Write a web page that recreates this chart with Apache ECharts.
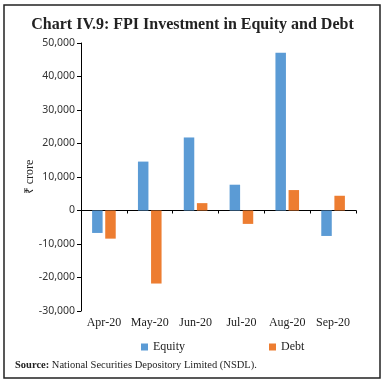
<!DOCTYPE html>
<html><head><meta charset="utf-8">
<script src="https://cdn.jsdelivr.net/npm/echarts@6/dist/echarts.min.js"></script>
<style>html,body{margin:0;padding:0;background:#fff}#c{width:385px;height:383px}</style>
</head><body><div id="c"></div>
<script>
const categories = ['Apr-20','May-20','Jun-20','Jul-20','Aug-20','Sep-20'];
const equity = [-6700, 14600, 21800, 7700, 47100, -7600];
const debt = [-8400, -21800, 2200, -4000, 6100, 4400];
const yMin = -30000, yMax = 50000, yStep = 10000;

const chart = echarts.init(document.getElementById('c'));
const fmt = v => (v < 0 ? '-' : '') + Math.abs(v).toString().replace(/\B(?=(\d{3})+(?!\d))/g, ',');
chart.setOption({
  animation: false,
  title: {
    text: 'Chart IV.9: FPI Investment in Equity and Debt',
    left: 'center', top: 12,
    textStyle: {fontFamily: 'Liberation Serif', fontWeight: 'bold', fontSize: 16, color: '#222'}
  },
  legend: {
    left: 136, top: 336, itemWidth: 7, itemHeight: 7, itemGap: 84, icon: 'rect',
    textStyle: {fontFamily: 'Liberation Serif', fontSize: 12, color: '#222'},
    data: ['Equity', 'Debt']
  },
  grid: {left: 81, right: 29, top: 43, bottom: 72},
  xAxis: [
    {type: 'category', data: categories,
     axisLine: {onZero: true, lineStyle: {color: '#000', width: 1}},
     axisTick: {show: true, length: 3, interval: 0, lineStyle: {color: '#000'}},
     axisLabel: {show: false}},
    {type: 'category', data: categories, position: 'bottom', offset: 0,
     axisLine: {show: false}, axisTick: {show: false},
     axisLabel: {interval: 0, margin: 6, fontFamily: 'Liberation Serif', fontSize: 12, color: '#222'}}
  ],
  yAxis: {
    type: 'value', min: yMin, max: yMax, interval: yStep,
    name: '₹ crore', nameLocation: 'middle', nameGap: 45, nameRotate: 90, nameMoveOverlap: false,
    nameTextStyle: {fontFamily: 'Liberation Serif', fontSize: 12, color: '#222'},
    axisLine: {show: true, lineStyle: {color: '#000'}},
    axisTick: {show: true, length: 4, lineStyle: {color: '#000'}},
    splitLine: {show: false},
    axisLabel: {formatter: fmt, fontFamily: 'Noto Sans', fontSize: 10.5, color: '#333', margin: 6}
  },
  series: [
    {name: 'Equity', type: 'bar', data: equity, xAxisIndex: 0, barWidth: 10.5, barGap: '25%',
     itemStyle: {color: '#5B9BD5'}},
    {name: 'Debt', type: 'bar', data: debt, xAxisIndex: 0, barWidth: 10.5, barGap: '25%',
     itemStyle: {color: '#ED7D31'}}
  ],
  graphic: [
    {type: 'rect', shape: {x: 4, y: 5, width: 376, height: 373}, silent: true,
     style: {fill: 'none', stroke: '#222', lineWidth: 1.5}},
    {type: 'text', left: 15, top: 360,
     style: {text: '{b|Source:} National Securities Depository Limited (NSDL).',
       rich: {b: {fontWeight: 'bold', fontFamily: 'Liberation Serif', fontSize: 10.5, fill: '#222'}},
       fontFamily: 'Liberation Serif', fontSize: 10.5, fill: '#222'}}
  ]
});
</script></body></html>
